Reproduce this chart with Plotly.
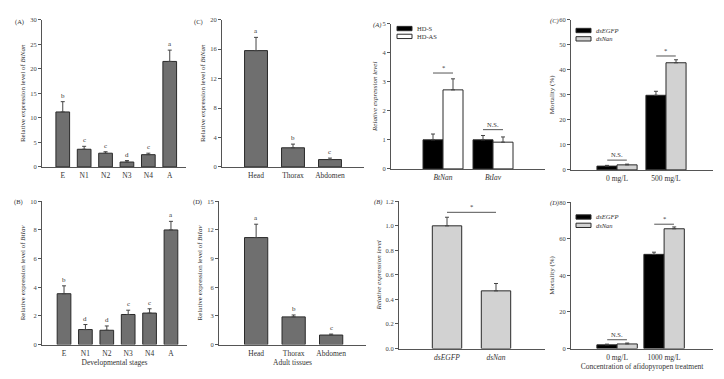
import plotly.graph_objects as go

W, H = 724, 379
FONT = "Liberation Serif"
GREY = "#6f6f6f"
LIGHT = "#d2d2d2"
EDGE = "#2a2a2a"
AX = "#555555"

# ---------------- data ----------------
stages = ["E", "N1", "N2", "N3", "N4", "A"]
nan_stage = [11.2, 3.6, 2.8, 1.0, 2.5, 21.5]
nan_stage_err = [2.1, 0.6, 0.3, 0.3, 0.3, 2.3]
nan_stage_sig = ["b", "c", "c", "d", "c", "a"]

iav_stage = [3.55, 1.05, 1.0, 2.1, 2.2, 8.0]
iav_stage_err = [0.55, 0.35, 0.3, 0.3, 0.3, 0.6]
iav_stage_sig = ["b", "d", "d", "c", "c", "a"]

tissues = ["Head", "Thorax", "Abdomen"]
nan_tissue = [15.8, 2.6, 1.0]
nan_tissue_err = [1.8, 0.5, 0.2]
nan_tissue_sig = ["a", "b", "c"]

iav_tissue = [11.2, 2.9, 1.0]
iav_tissue_err = [1.4, 0.2, 0.1]
iav_tissue_sig = ["a", "b", "c"]

genes = ["BtNan", "BtIav"]
hd_s = [1.0, 1.0]
hd_s_err = [0.2, 0.15]
hd_as = [2.72, 0.92]
hd_as_err = [0.38, 0.18]
genes_sig = ["*", "N.S."]
genes_sig_y = [3.3, 1.35]
pop_names = ["HD-S", "HD-AS"]

doses_c = ["0 mg/L", "500 mg/L"]
mort_c_egfp = [1.5, 29.8]
mort_c_egfp_err = [0.3, 1.6]
mort_c_nan = [2.0, 42.8]
mort_c_nan_err = [0.3, 1.2]
mort_c_sig = ["N.S.", "*"]
mort_c_sig_y = [3.9, 45.5]

dsrna = ["dsEGFP", "dsNan"]
rnai_expr = [1.0, 0.47]
rnai_expr_err = [0.07, 0.06]
rnai_sig = "*"
rnai_sig_y = 1.11

doses_d = ["0 mg/L", "1000 mg/L"]
mort_d_egfp = [2.0, 51.5]
mort_d_egfp_err = [0.4, 1.2]
mort_d_nan = [2.5, 65.5]
mort_d_nan_err = [0.5, 1.0]
mort_d_sig = ["N.S.", "*"]
mort_d_sig_y = [4.8, 68.0]

# ---------------- layout helpers ----------------
fig = go.Figure()
layout = dict(
    width=W, height=H, margin=dict(l=0, r=0, t=0, b=0),
    paper_bgcolor="white", plot_bgcolor="white",
    font=dict(family=FONT, size=7, color="#333"),
    barmode="overlay", showlegend=False,
)
annotations = []
shapes = []


def px_x(p):
    return p / W


def px_y(p):
    return 1 - p / H


def add_axes(i, x0, x1, ytop, ybot, xrange, yrange, dtick, ytitle, xticks, tickformat=None):
    xs = "xaxis" if i == 1 else f"xaxis{i}"
    ys = "yaxis" if i == 1 else f"yaxis{i}"
    yname = "y" if i == 1 else f"y{i}"
    xname = "x" if i == 1 else f"x{i}"
    layout[xs] = dict(
        domain=[px_x(x0), px_x(x1)], anchor=yname, range=xrange,
        showline=True, linecolor=AX, linewidth=1, ticks="", showgrid=False, zeroline=False,
        tickfont=dict(size=7.5, family=FONT, color="#333"), type="linear",
        tickmode="array", tickvals=list(range(len(xticks))),
        ticktext=xticks, fixedrange=True, ticklabelstandoff=1,
    )
    layout[ys] = dict(
        domain=[px_y(ybot), px_y(ytop)], anchor=xname, range=yrange,
        showline=True, linecolor=AX, linewidth=1, ticks="outside", ticklen=3, tickcolor=AX,
        dtick=dtick, tick0=0, showgrid=False, zeroline=False,
        tickfont=dict(size=6.5, family=FONT, color="#444"),
        title=dict(text=ytitle, font=dict(size=7, family=FONT, color="#333"), standoff=3),
        fixedrange=True, tickformat=tickformat,
    )
    return xname, yname


def bar(xn, yn, xs, ys, errs, color, width, offset=None, name=None):
    fig.add_trace(go.Bar(
        x=xs, y=ys, width=width, offset=offset, xaxis=xn, yaxis=yn,
        marker=dict(color=color, line=dict(color=EDGE, width=1)),
        error_y=dict(type="data", array=errs, arrayminus=[0] * len(errs), color="#444", thickness=1, width=2),
        name=name,
    ))


def letters(xn, yn, ys, errs, labels):
    for k, (v, e, t) in enumerate(zip(ys, errs, labels)):
        annotations.append(dict(
            x=k, y=v + e, xref=xn, yref=yn, text=t, showarrow=False,
            yanchor="bottom", font=dict(size=7, family=FONT, color="#333")))


def sigline(xn, yn, xa, xb, y, label):
    shapes.append(dict(type="line", xref=xn, yref=yn, x0=xa, x1=xb, y0=y, y1=y,
                       line=dict(color=AX, width=1)))
    annotations.append(dict(x=(xa + xb) / 2, y=y, xref=xn, yref=yn, text=label, showarrow=False,
                            yanchor="bottom", font=dict(size=6.5, family=FONT, color="#333")))


def panel_label(right_px, y_px, text):
    annotations.append(dict(x=px_x(right_px), y=px_y(y_px), xref="paper", yref="paper", text=text,
                            showarrow=False, xanchor="right", yanchor="middle",
                            font=dict(size=6.5, family=FONT, color="#333")))


def manual_legend(x_px, y_px_list, names, colors):
    for yp, nm, col in zip(y_px_list, names, colors):
        shapes.append(dict(type="rect", xref="paper", yref="paper",
                           x0=px_x(x_px), x1=px_x(x_px + 15), y0=px_y(yp + 2.2), y1=px_y(yp - 2.2),
                           fillcolor=col, line=dict(color=EDGE, width=1)))
        annotations.append(dict(x=px_x(x_px + 18), y=px_y(yp), xref="paper", yref="paper", text=nm,
                                showarrow=False, xanchor="left", yanchor="middle",
                                font=dict(size=6.5, family=FONT, color="#333")))


def xtitle(ax, text):
    layout[ax]["title"] = dict(text=text, font=dict(size=7.5, family=FONT, color="#333"), standoff=0)


idx6 = list(range(len(stages)))
idx3 = list(range(len(tissues)))
idx2 = [0, 1]

# (A) BtNan stages
xn, yn = add_axes(1, 42, 186, 16, 166, [-0.97, 5.76], [0, 30], 5,
                  "Relative expression level of <i>BtNan</i>", stages)
bar(xn, yn, idx6, nan_stage, nan_stage_err, GREY, 0.64)
letters(xn, yn, nan_stage, nan_stage_err, nan_stage_sig)
panel_label(26, 18, "(A)")

# (C) BtNan tissues
xn, yn = add_axes(2, 222, 364, 16, 166, [-0.92, 2.92], [0, 20], 4,
                  "Relative expression level of <i>BtNan</i>", tissues)
bar(xn, yn, idx3, nan_tissue, nan_tissue_err, GREY, 0.62)
letters(xn, yn, nan_tissue, nan_tissue_err, nan_tissue_sig)
panel_label(205, 18, "(C)")

# (B) BtIav stages
xn, yn = add_axes(3, 42, 187, 201, 347, [-1.03, 5.75], [0, 10], 2,
                  "Relative expression level of <i>BtIav</i>", stages)
bar(xn, yn, idx6, iav_stage, iav_stage_err, GREY, 0.64)
letters(xn, yn, iav_stage, iav_stage_err, iav_stage_sig)
panel_label(25, 202, "(B)")
xtitle("xaxis3", "Developmental stages")

# (D) BtIav tissues
xn, yn = add_axes(4, 219, 366, 201, 347, [-0.99, 2.93], [0, 15], 3,
                  "Relative expression level of <i>BtIav</i>", tissues)
bar(xn, yn, idx3, iav_tissue, iav_tissue_err, GREY, 0.62)
letters(xn, yn, iav_tissue, iav_tissue_err, iav_tissue_sig)
panel_label(204, 202, "(D)")
xtitle("xaxis4", "Adult tissues")

# right (A) HD-S vs HD-AS
xn, yn = add_axes(5, 391, 545, 20, 168, [-1.04, 2.04], [0, 5], 1,
                  "<i>Relative expression level</i>", [f"<i>{g}</i>" for g in genes])
bar(xn, yn, idx2, hd_s, hd_s_err, "black", 0.4, offset=-0.4, name=pop_names[0])
bar(xn, yn, idx2, hd_as, hd_as_err, "white", 0.4, offset=0.0, name=pop_names[1])
for k in idx2:
    sigline(xn, yn, k - 0.2, k + 0.2, genes_sig_y[k], genes_sig[k])
panel_label(383, 21, "<i>(A)</i>")
manual_legend(397, [25, 33], pop_names, ["black", "white"])

# right (C) mortality 500
xn, yn = add_axes(6, 571, 713, 16, 169, [-0.94, 1.96], [0, 60], 10,
                  "Mortality (%)", doses_c)
bar(xn, yn, idx2, mort_c_egfp, mort_c_egfp_err, "black", 0.41, offset=-0.41, name=dsrna[0])
bar(xn, yn, idx2, mort_c_nan, mort_c_nan_err, LIGHT, 0.41, offset=0.0, name=dsrna[1])
for k in idx2:
    sigline(xn, yn, k - 0.2, k + 0.2, mort_c_sig_y[k], mort_c_sig[k])
panel_label(561, 17, "<i>(C)</i>")
manual_legend(576, [27, 35.5], [f"<i>{d}</i>" for d in dsrna], ["black", LIGHT])

# right (B) RNAi expression
xn, yn = add_axes(7, 399, 545, 201, 351, [-0.98, 2.0], [0, 1.2], 0.2,
                  "<i>Relative expression level</i>", [f"<i>{d}</i>" for d in dsrna], tickformat=".1f")
bar(xn, yn, idx2, rnai_expr, rnai_expr_err, LIGHT, 0.6)
sigline(xn, yn, 0, 1, rnai_sig_y, rnai_sig)
panel_label(384, 202, "<i>(B)</i>")

# right (D) mortality 1000
xn, yn = add_axes(8, 571, 713, 202, 351, [-0.98, 2.04], [0, 80], 20,
                  "Mortality (%)", doses_d)
bar(xn, yn, idx2, mort_d_egfp, mort_d_egfp_err, "black", 0.43, offset=-0.43, name=dsrna[0])
bar(xn, yn, idx2, mort_d_nan, mort_d_nan_err, LIGHT, 0.43, offset=0.0, name=dsrna[1])
for k in idx2:
    sigline(xn, yn, k - 0.21, k + 0.21, mort_d_sig_y[k], mort_d_sig[k])
panel_label(561, 203, "<i>(D)</i>")
manual_legend(576, [217, 225.5], [f"<i>{d}</i>" for d in dsrna], ["black", LIGHT])
xtitle("xaxis8", "Concentration of afidopyropen treatment")

layout["annotations"] = annotations
layout["shapes"] = shapes
fig.update_layout(**layout)
fig.write_html("out.html", config={"displayModeBar": False},
               post_script="document.body.style.margin='0';")
